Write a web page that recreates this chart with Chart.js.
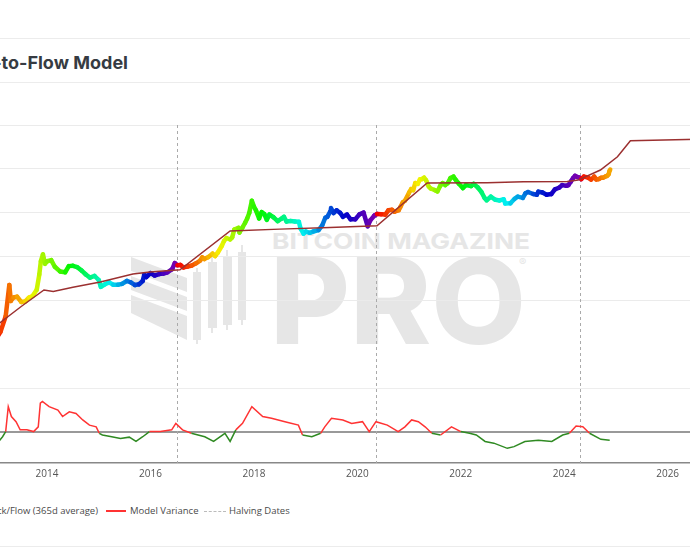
<!DOCTYPE html>
<html>
<head>
<meta charset="utf-8">
<script src="https://cdn.jsdelivr.net/npm/chart.js@4.4.0/dist/chart.umd.min.js"></script>
<style>
  body { margin: 0; width: 690px; height: 550px; overflow: hidden; position: relative; background: #fff; font-family: "Open Sans", sans-serif; }
  .hr { position: absolute; left: 0; width: 690px; height: 1px; background: #ececec; }
  #title { position: absolute; right: 562px; top: 52px; line-height: 18px; font: 700 18px Inter, sans-serif; color: #363b42; white-space: nowrap; }
  #wm { position: absolute; left: 0; top: 0; }
  #wrap { position: absolute; left: -25px; top: 0; width: 744px; height: 492px; }
  .lg { position: absolute; top: 505px; font-size: 9.5px; line-height: 12px; color: #4a4a4a; white-space: nowrap; }
</style>
</head>
<body>
<div class="hr" style="top:38px"></div>
<div id="title">Bitcoin Stock-to-Flow Model</div>
<div class="hr" style="top:82px"></div>

<svg id="wm" width="690" height="550">
  <g fill="#e6e6e6">
    <polygon points="131,257 187,278 187,292 131,271"/>
    <polygon points="131,276 187,297 187,311 131,290"/>
    <polygon points="131,295 187,316 187,340 131,313"/>
    <rect x="193" y="272" width="8" height="68"/><rect x="196" y="268" width="2" height="76"/>
    <rect x="208" y="262" width="9" height="66"/><rect x="211" y="255" width="2" height="78"/>
    <rect x="223" y="257" width="9" height="68"/><rect x="226" y="250" width="2" height="80"/>
    <rect x="238" y="252" width="8" height="68"/><rect x="241" y="245" width="2" height="80"/>
  </g>
  <text x="272" y="249" font-family="Inter, sans-serif" font-weight="700" font-size="22" fill="#e6e6e6" textLength="258" lengthAdjust="spacingAndGlyphs">BITCOIN MAGAZINE</text>
  <text x="270" y="344" font-family="Inter, sans-serif" font-weight="800" font-size="120" fill="#e6e6e6" textLength="256" lengthAdjust="spacingAndGlyphs">PRO</text>
  <text x="519" y="266" font-family="Inter, sans-serif" font-size="11" fill="#e6e6e6">®</text>
</svg>

<div id="wrap"><canvas id="c"></canvas></div>

<div class="lg" style="right:592px">Stock/Flow (365d average)</div>
<div style="position:absolute; left:106px; top:510px; width:20px; height:2px; background:#ff3333"></div>
<div class="lg" style="left:130px">Model Variance</div>
<div style="position:absolute; left:204px; top:511px; width:22px; border-top:1px dashed #bbb"></div>
<div class="lg" style="left:229px">Halving Dates</div>
<div class="hr" style="top:546px"></div>

<script>
// decimal years
const halvingDates = [2012.91, 2016.52, 2020.36, 2024.30];
const yearTicks = [2014, 2016, 2018, 2020, 2022, 2024, 2026];
const priceTicks = [100, 1000, 10000, 100000, 1000000];
const varianceTicks = [0, 1];

const priceX = [2012.92, 2013.0, 2013.1, 2013.2, 2013.27, 2013.3, 2013.35, 2013.42, 2013.5, 2013.58, 2013.65, 2013.72, 2013.8, 2013.85, 2013.88, 2013.92, 2013.96,
  2014.0, 2014.08, 2014.15, 2014.25, 2014.35, 2014.42, 2014.5, 2014.58, 2014.67, 2014.75, 2014.83, 2014.92,
  2015.0, 2015.04, 2015.12, 2015.2, 2015.28, 2015.37, 2015.45, 2015.54, 2015.62, 2015.7, 2015.78, 2015.85, 2015.88, 2015.92,
  2016.0, 2016.08, 2016.17, 2016.25, 2016.33, 2016.42, 2016.47, 2016.52, 2016.58, 2016.64, 2016.72, 2016.8, 2016.88, 2016.96,
  2017.0, 2017.04, 2017.12, 2017.2, 2017.25, 2017.3, 2017.38, 2017.42, 2017.47, 2017.54, 2017.58, 2017.62, 2017.7, 2017.72, 2017.78, 2017.83, 2017.87, 2017.91, 2017.96,
  2018.0, 2018.04, 2018.1, 2018.15, 2018.2, 2018.25, 2018.3, 2018.38, 2018.46, 2018.54, 2018.58, 2018.63, 2018.71, 2018.79, 2018.87, 2018.9, 2018.96,
  2019.0, 2019.08, 2019.15, 2019.25, 2019.32, 2019.38, 2019.42, 2019.48, 2019.49, 2019.54, 2019.6, 2019.67, 2019.72, 2019.8, 2019.87, 2019.96,
  2020.04, 2020.12, 2020.2, 2020.25, 2020.33, 2020.38, 2020.46, 2020.54, 2020.6, 2020.67, 2020.72, 2020.8, 2020.83, 2020.88, 2020.92,
  2021.0, 2021.04, 2021.08, 2021.12, 2021.17, 2021.21, 2021.25, 2021.29, 2021.33, 2021.38, 2021.42, 2021.5, 2021.55, 2021.6, 2021.65, 2021.7, 2021.75, 2021.8, 2021.86, 2021.9, 2021.96,
  2022.04, 2022.1, 2022.2, 2022.25, 2022.33, 2022.4, 2022.46, 2022.5, 2022.58, 2022.67, 2022.75, 2022.83, 2022.86, 2022.96,
  2023.04, 2023.1, 2023.2, 2023.25, 2023.3, 2023.4, 2023.47, 2023.5, 2023.58, 2023.66, 2023.75, 2023.82, 2023.9, 2023.96,
  2024.04, 2024.08, 2024.13, 2024.17, 2024.21, 2024.25, 2024.29, 2024.33, 2024.38, 2024.46, 2024.52, 2024.58, 2024.62, 2024.67, 2024.71, 2024.75, 2024.79, 2024.83, 2024.86, 2024.875, 2024.89];
const priceY = [12.5, 13, 20, 45, 230, 100, 120, 125, 95, 98, 120, 130, 180, 400, 800, 1150, 700,
  800, 850, 600, 470, 450, 620, 630, 590, 490, 400, 340, 370,
  300, 210, 240, 265, 235, 235, 245, 285, 265, 230, 240, 285, 400, 350,
  430, 380, 410, 420, 450, 530, 730, 650, 660, 580, 610, 640, 720, 830,
  980, 900, 1000, 1190, 1050, 1250, 1800, 2300, 2700, 2500, 2800, 4200, 4600, 3600, 4700, 6000, 7500, 10000, 19000,
  14000, 11500, 7500, 10500, 9500, 7000, 9200, 8000, 6500, 7500, 8200, 6400, 6600, 6400, 6300, 4500, 3400,
  3800, 3550, 3800, 4100, 5200, 7800, 8200, 11000, 13000, 10000, 11500, 10000, 8200, 9200, 7200, 7200,
  9300, 10200, 5000, 6800, 8800, 9500, 9400, 9200, 11500, 11800, 10700, 11600, 13500, 17500, 19000,
  29000, 35000, 33000, 48000, 46000, 58000, 59000, 63500, 55000, 40000, 36000, 33000, 31000, 41000, 48000, 43000, 48000, 62000, 67000, 57000, 47000,
  37000, 43000, 41000, 46000, 38000, 30000, 22000, 19500, 23500, 20000, 19300, 20500, 16500, 16600,
  21000, 23500, 22000, 28000, 30000, 27000, 26000, 30500, 29300, 26000, 27000, 34500, 37500, 43000,
  41500, 43000, 52000, 62000, 70000, 66000, 64000, 59000, 67000, 64000, 57500, 67000, 58000, 59000, 63000, 63500, 67000, 70000, 76000, 90000, 97000];

const modelX = [2012.9, 2013.09, 2013.5, 2013.94, 2014.12, 2014.5, 2015.03, 2015.66, 2015.99, 2016.57, 2017.54, 2018.5, 2019.47, 2020.38,
  2021.35, 2022.51, 2023.21, 2024.06, 2024.27, 2024.7, 2025.03, 2025.28, 2026.8];
const modelY = [18, 32, 75, 178, 165, 205, 270, 410, 455, 510, 3900, 4300, 4700, 5100,
  48000, 49000, 51000, 52000, 56000, 95000, 190000, 440000, 480000];

const varianceX = [2012.92, 2013.01, 2013.14, 2013.2, 2013.25, 2013.31, 2013.4, 2013.48, 2013.61, 2013.74, 2013.83, 2013.87, 2013.91,
  2014.04, 2014.21, 2014.3, 2014.43, 2014.56, 2014.69, 2014.82, 2014.95, 2015.01, 2015.07, 2015.25, 2015.42, 2015.59, 2015.72, 2015.85, 2015.98,
  2016.19, 2016.41, 2016.49, 2016.62, 2016.79, 2017.05, 2017.22, 2017.44, 2017.54, 2017.65, 2017.78, 2017.96,
  2018.17, 2018.34, 2018.6, 2018.86, 2018.94, 2019.12, 2019.29, 2019.37, 2019.5, 2019.72, 2019.89,
  2020.1, 2020.23, 2020.36, 2020.58, 2020.79, 2020.92, 2021.05, 2021.18, 2021.31, 2021.44, 2021.61, 2021.82, 2022.0,
  2022.17, 2022.3, 2022.47, 2022.64, 2022.9, 2023.03, 2023.24, 2023.5, 2023.76, 2023.97, 2024.1, 2024.23, 2024.36, 2024.49, 2024.71, 2024.88];
const varianceY = [-0.42, -0.3, -0.11, 0.01, 0.59, 0.36, 0.24, 0.05, 0.05, 0.01, 0.12, 0.67, 0.71,
  0.59, 0.51, 0.36, 0.47, 0.43, 0.28, 0.16, 0.12, -0.03, -0.07, -0.11, -0.15, -0.12, -0.22, -0.11, 0.01,
  0.01, 0.05, 0.2, 0.05, -0.03, -0.11, -0.22, -0.03, -0.22, 0.05, 0.2, 0.59,
  0.36, 0.32, 0.24, 0.16, -0.07, -0.11, -0.03, 0.12, 0.32, 0.28, 0.2,
  0.24, 0.01, 0.24, 0.16, 0.01, 0.12, 0.28, 0.24, 0.12, -0.03, -0.07, 0.12, 0.01,
  -0.03, -0.07, -0.22, -0.26, -0.38, -0.34, -0.22, -0.19, -0.22, -0.07, -0.03, 0.14, 0.12, -0.03, -0.17, -0.19];

function toPoints(xs, ys) {
  return xs.map((x, i) => ({ x: x, y: ys[i] }));
}

// rainbow by position in the halving cycle: red right after a halving, purple before the next
function cycleColor(x) {
  let i = halvingDates.findIndex(h => h > x);
  let prev, next;
  if (i === -1) { prev = halvingDates[halvingDates.length - 1]; next = prev + 4; }
  else if (i === 0) { prev = halvingDates[0] - 4; next = halvingDates[0]; }
  else { prev = halvingDates[i - 1]; next = halvingDates[i]; }
  const f = (x - prev) / (next - prev);
  const hue = 285 * f;
  const light = f < 0.6 ? 48 : 48 - (f - 0.6) * 35;
  return `hsl(${hue.toFixed(0)},100%,${light.toFixed(0)}%)`;
}

const halvingLines = {
  id: "halvingLines",
  beforeDatasetsDraw(chart) {
    const { ctx, chartArea, scales } = chart;
    ctx.save();
    ctx.strokeStyle = "#aaaaaa";
    ctx.lineWidth = 1;
    ctx.setLineDash([3, 3]);
    halvingDates.forEach((d) => {
      const x = Math.round(scales.x.getPixelForValue(d)) + 0.5;
      ctx.beginPath();
      ctx.moveTo(x, chartArea.top);
      ctx.lineTo(x, chartArea.bottom);
      ctx.stroke();
    });
    ctx.restore();
  },
};

Chart.defaults.font.family = "'Open Sans', sans-serif";
Chart.defaults.font.size = 10;
Chart.defaults.color = "#555";

new Chart(document.getElementById("c"), {
  type: "line",
  data: {
    datasets: [
      {
        label: "Stock/Flow (365d average)",
        data: toPoints(modelX, modelY),
        yAxisID: "y",
        borderColor: "#9b3030",
        borderWidth: 1.5,
        pointRadius: 0,
      },
      {
        label: "BTC Price",
        data: toPoints(priceX, priceY),
        yAxisID: "y",
        borderColor: "#ff8000",
        borderWidth: 4.5,
        borderCapStyle: "round",
        borderJoinStyle: "round",
        pointRadius: 0,
        segment: { borderColor: (c) => cycleColor(c.p0.parsed.x) },
      },
      {
        label: "Model Variance",
        data: toPoints(varianceX, varianceY),
        yAxisID: "y2",
        borderColor: "#ff3333",
        borderWidth: 1.5,
        pointRadius: 0,
        segment: {
          borderColor: (c) => (c.p0.parsed.y + c.p1.parsed.y) / 2 >= 0 ? "#ff3333" : "#2f8a22",
        },
      },
    ],
  },
  options: {
    responsive: true,
    maintainAspectRatio: false,
    animation: false,
    layout: { padding: { top: 125, left: 10, right: 10, bottom: 7 } },
    plugins: { legend: { display: false }, tooltip: { enabled: false } },
    scales: {
      x: {
        type: "linear",
        min: 2012.8,
        max: 2026.8,
        afterBuildTicks: (s) => { s.ticks = yearTicks.map((v) => ({ value: v })); },
        ticks: { callback: (v) => String(v), padding: 5, maxRotation: 0 },
        grid: { display: false, drawTicks: false },
        border: { display: true, color: "#888", width: 1.5 },
      },
      y2: {
        type: "linear",
        position: "left",
        stack: "panels",
        stackWeight: 95,
        min: -0.721,
        max: 1.488,
        afterBuildTicks: (s) => { s.ticks = varianceTicks.map((v) => ({ value: v })); },
        ticks: { display: false },
        grid: {
          drawTicks: false,
          color: (c) => (c.tick && c.tick.value === 0 ? "#999" : "#ededed"),
          lineWidth: (c) => (c.tick && c.tick.value === 0 ? 2 : 1),
        },
        border: { display: false },
      },
      y: {
        type: "logarithmic",
        position: "left",
        stack: "panels",
        stackWeight: 243,
        min: 3,
        max: 1000000,
        bounds: "data",
        afterBuildTicks: (s) => { s.ticks = priceTicks.map((v) => ({ value: v })); },
        ticks: { display: false },
        grid: { drawTicks: false, color: "#ebebeb" },
        border: { display: false },
      },
    },
  },
  plugins: [halvingLines],
});
</script>
</body>
</html>
